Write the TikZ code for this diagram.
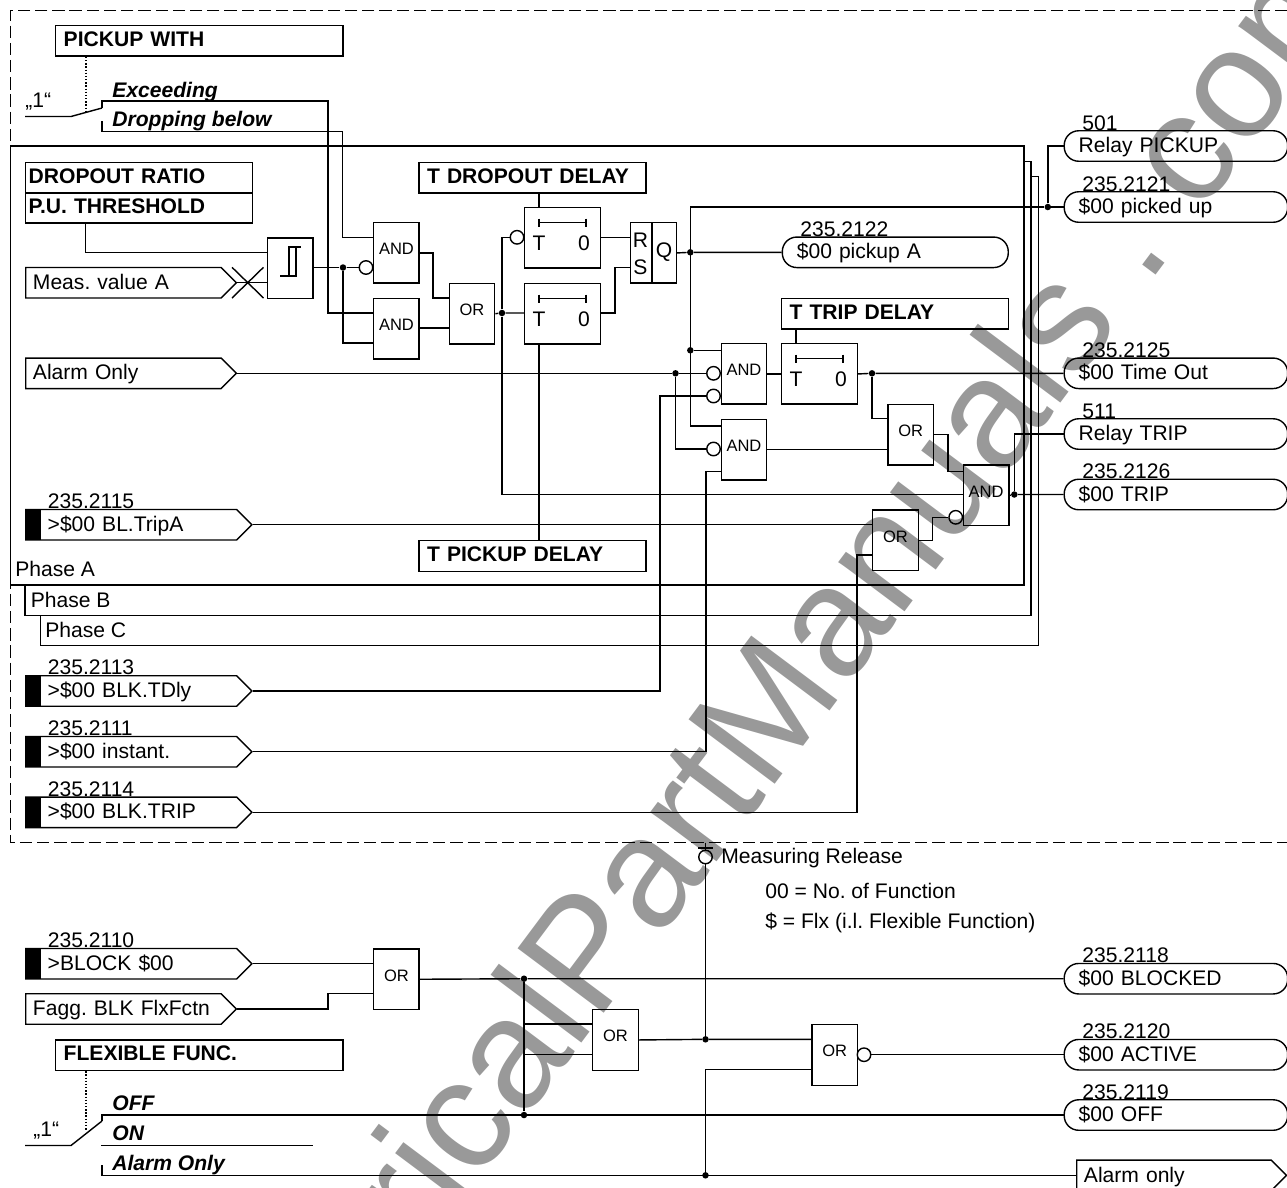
\documentclass[tikz,border=0pt]{standalone}
\usepackage{fontspec}
\setmainfont{Liberation Sans}
\usetikzlibrary{shapes.symbols}
\frenchspacing
\definecolor{wmgray}{HTML}{999999}
\tikzset{
  every node/.style={font=\fontsize{12}{14}\selectfont},
  conn/.style={line width=0.8pt},
  gate/.style={draw,conn,rectangle,anchor=north west,minimum width=0.91cm,minimum height=1.21cm,inner sep=0pt,
    font=\fontsize{9.4}{11}\selectfont,text height=6.7pt,text depth=4.5pt},
  timer/.style={draw,conn,rectangle,anchor=north west,minimum width=1.515cm,minimum height=1.21cm,inner sep=0pt},
  inv/.style={draw,conn,circle,minimum size=0.27cm,inner sep=0pt},
  dot/.style={circle,fill,minimum size=0.13cm,inner sep=0pt},
  txt/.style={anchor=west,inner sep=0pt,text height=8.6pt,text depth=0pt},
  swtxt/.style={txt,font=\fontsize{12}{14}\selectfont\bfseries\itshape},
  numtag/.style={anchor=south west,inner sep=0pt},
  titlebox/.style={draw,conn,rectangle,anchor=north west,minimum height=0.61cm,inner xsep=0.16cm,inner ysep=0pt,
    text width=#1,text height=8.6pt,text depth=2.5pt,font=\fontsize{12}{14}\selectfont\bfseries},
  pill/.style={draw,conn,rectangle,rounded corners=0.29cm,anchor=west,minimum height=0.61cm,inner xsep=0.29cm,inner ysep=0pt,
    text width=#1,text height=8.6pt,text depth=1pt},
  sigin/.style={draw,conn,signal,signal to=east,signal pointer angle=90,anchor=west,minimum height=0.61cm,
    inner xsep=0.145cm,inner ysep=0pt,text width=#1,text height=8.6pt,text depth=1pt},
  sigblk/.style={draw,conn,signal,signal to=east,signal pointer angle=90,anchor=west,minimum height=0.61cm,
    inner xsep=0.44cm,inner ysep=0pt,text width=3.34cm,text height=8.6pt,text depth=1pt},
}
\begin{document}
\begin{tikzpicture}[x=0.02cm,y=-0.02cm]
\path[use as bounding box,clip] (0,0) rectangle (1287,1187);
% watermark
\node[rotate=53.2,anchor=base west,inner sep=0pt,text=wmgray,font=\fontsize{89}{91}\selectfont] (wmark) at (216,1532) {ElectricalPartManuals . com};

% outer frame and phases
\draw[conn,dash pattern=on 7pt off 2.8pt] (1287,10.7) -- (10.5,10.7) -- (10.5,842.7) -- (1287,842.7);
\draw[conn] (10.5,146) rectangle (1023.8,585);
\draw[conn] (25,585) |- (1031,615.7) |- (1023.8,161.7);
\draw[conn] (40.4,615.7) |- (1038.7,645.7) |- (1031,176.7);
\node[txt] (phaseA) at (15,569) {Phase A};
\node[txt] (phaseB) at (30.5,600) {Phase B};
\node[txt] (phaseC) at (45,630) {Phase C};

% settings
\node[titlebox=5.43cm] (pickupWith) at (55,25) {PICKUP WITH};
\node[titlebox=4.42cm,inner xsep=0.06cm] (dropRatio) at (25,161.7) {DROPOUT RATIO};
\node[titlebox=4.42cm,inner xsep=0.06cm] (puThresh) at (25,191.7) {P.U. THRESHOLD};
\node[titlebox=4.22cm] (titleDrop) at (418.4,161.7) {T DROPOUT DELAY};
\node[titlebox=4.22cm] (titlePick) at (418.4,540) {T PICKUP DELAY};
\node[titlebox=4.22cm] (titleTrip) at (781,297.7) {T TRIP DELAY};
\node[titlebox=5.43cm] (flexFunc) at (55,1039.3) {FLEXIBLE FUNC.};

% switches
\node[txt] (oneA) at (25,100) {„1“};
\node[swtxt] (lblExc) at (112,90) {Exceeding};
\node[swtxt] (lblDrop) at (112,118.7) {Dropping below};
\coordinate (lineA) at (25,116.5);
\coordinate (swA) at (71,116.5);
\coordinate (swB) at (102,108);
\coordinate (swC) at (102,121);
\node[txt] (oneB) at (33,1129) {„1“};
\node[swtxt] (lblOff) at (112,1103) {OFF};
\node[swtxt] (lblOn) at (112,1133) {ON};
\node[swtxt] (lblAl) at (112,1163) {Alarm Only};
\coordinate (lineB) at (25,1145.5);
\coordinate (swD) at (71,1145.5);
\coordinate (swE) at (102,1121);
\coordinate (swF) at (102,1165);
\draw[conn,densely dotted] (pickupWith.south -| 86,0) -- (86,111);
\draw[conn,densely dotted] (flexFunc.south -| 86,0) -- (86,1131);
\draw[conn] (lineA) -- (swA) -- (swB);
\draw[conn] (lineB) -- (swD) -- (swE);
\draw[conn] (101,1145.5) -- (313,1145.5);

% inputs
\node[sigin=3.62cm] (measA) at (25,282.7) {Meas. value A};
\node[sigin=3.62cm] (alarmA) at (25,373.3) {Alarm Only};
\node[sigin=3.62cm] (faggIn) at (25,1009) {Fagg. BLK FlxFctn};
\foreach \nm/\y/\num/\tx in {tripBl/524.7/235.2115/>\$00 BL.TripA,blkTDly/691/235.2113/>\$00 BLK.TDly,
    blkInst/751.7/235.2111/>\$00 instant.,blkTrip/812.3/235.2114/>\$00 BLK.TRIP,blockIn/963.7/235.2110/>BLOCK \$00}{
  \node[sigblk] (\nm) at (25,\y) {\tx};
  \fill (\nm.west) ++(0,15.2) rectangle ++(16,-30.4);
  \node[numtag] (\nm Num) at (47.5,\y-15.5) {\num};
}

% gates
\node[gate] (andA) at (373,222) {AND};
\node[gate] (andB) at (373,298) {AND};
\node[gate] (orA) at (448.5,282.7) {OR};
\node[gate] (rs) at (630,222) {};
\node[gate] (andD) at (720.5,343) {AND};
\node[gate] (andE) at (720.5,418.7) {AND};
\node[gate] (orB) at (887.2,403.7) {OR};
\node[gate] (andTrip) at (962.7,464.3) {AND};
\node[gate] (orC) at (872,509.3) {OR};
\node[gate] (orD) at (373,948.3) {OR};
\node[gate] (orE) at (592,1009) {OR};
\node[gate] (orF) at (811.3,1024) {OR};
\node[draw,conn,rectangle,anchor=north west,minimum width=0.91cm,minimum height=1.21cm,inner sep=0pt] (hyst) at (267,237.3) {};
\draw[conn] (280,276) -- (296,276) -- (296,247) (289,276) -- (289,247) -- (301,247);
\draw[conn] (232,267.3) -- (263.5,298) (232,298) -- (263.5,267.3);
\draw[conn] (652,0 |- rs.north) -- (652,0 |- rs.south);
\node[inner sep=0pt] (rsR) at (640.5,240) {R};
\node[inner sep=0pt] (rsS) at (640.5,267) {S};
\node[inner sep=0pt] (rsQ) at (664,252.3) {Q};

% timers
\foreach \tm/\x/\y in {tDrop/524/207,tPick/524/283,tTrip/781/343}{
  \begin{scope}[shift={(\x,\y)}]
    \node[timer] (\tm) at (0,0) {};
    \draw[conn] (15,11.7) -- (15,19.7) (62,11.7) -- (62,19.7) (15,15.7) -- (62,15.7);
    \node[inner sep=0pt] (\tm T) at (15,36) {T};
    \node[inner sep=0pt] (\tm Z) at (60,36) {0};
  \end{scope}
}

% inverters
\node[inv] (nA) at (366,267.5) {};
\node[inv] (nT) at (517,237.3) {};
\node[inv] (nD1) at (713.5,373.3) {};
\node[inv] (nD2) at (713.5,396) {};
\node[inv] (nE) at (713.5,449) {};
\node[inv] (nF) at (955.7,517.3) {};
\node[inv] (nG) at (864,1054.7) {};
\node[inv] (nRel) at (705.5,857) {};

% outputs
\node[pill=3.94cm] (pickA) at (781.6,252.3) {\$00 pickup A};
\node[numtag] (pickANum) at (800,237) {235.2122};
\foreach \nm/\y/\num/\tx in {relPick/146/501/Relay PICKUP,pkdUp/207/235.2121/\$00 picked up,timeOut/373.3/235.2125/\$00 Time Out,
    relTrip/434/511/Relay TRIP,trip/494.5/235.2126/\$00 TRIP,blocked/978.7/235.2118/\$00 BLOCKED,
    active/1054.7/235.2120/\$00 ACTIVE,off/1115/235.2119/\$00 OFF}{
  \node[pill=3.89cm] (\nm) at (1063.5,\y) {\tx};
  \node[numtag] (\nm Num) at (1082,\y-15.3) {\num};
}
\node[sigin=3.6cm] (alarmOut) at (1076,1175.3) {Alarm only};

% junctions
\node[dot] (dHyst) at (343,267.5) {};
\node[dot] (dOr) at (502,313) {};
\node[dot] (dQ) at (690.3,252.3) {};
\node[dot] (dBar) at (690.3,350.3) {};
\node[dot] (dRel) at (1047.8,207) {};
\node[dot] (dAlarm) at (675.5,373.3) {};
\node[dot] (dTrip) at (872,373.3) {};
\node[dot] (dOut) at (1014.3,494.5) {};
\node[dot] (dBlk) at (524,978.7) {};
\node[dot] (dOff) at (524,1115) {};
\node[dot] (dRelease) at (705.5,1039.3) {};
\node[dot] (dAlarmB) at (705.5,1175.3) {};

% pickup logic
\draw[conn] (swB) |- (328,101) |- (andB.west |- 0,313);
\draw[conn] (swC) |- (342.6,131.5) |- (andA.west |- 0,237.5);
\draw[conn] (85.5,0 |- puThresh.south) |- (hyst.west |- 0,252.7);
\draw[conn] (measA.east) -- (hyst.west |- measA.east);
\draw[conn] (hyst.east |- dHyst) -- (dHyst) -- (nA.west);
\draw[conn] (dHyst) |- (andB.west |- 0,343);
\draw[conn] (andA.east) -| (433,298) -- (orA.west |- 0,298);
\draw[conn] (andB.east |- 0,328) -- (orA.west |- 0,328);
\draw[conn] (orA.east) -- (dOr) -- (tPick.west |- dOr);
\draw[conn] (dOr) |- (nT.west);
\draw[conn] (dOr) |- (andTrip.west |- 0,494.5);
\draw[conn] (tDrop.east |- nT) -- (rs.west |- nT);
\draw[conn] (tPick.east |- dOr) -| (615,267.3) -- (rs.west |- 0,267.3);
\draw[conn] (titleDrop.south -| tDropT) -- (tDrop.north -| tDropT);
\draw[conn] (tPick.south -| tPickT) -- (titlePick.north -| tPickT);
\draw[conn] (titleTrip.south -| tTripT) -- (tTrip.north -| tTripT);
\draw[conn] (rs.east) -- (dQ) -- (pickA.west);
\draw[conn] (pkdUp.west) -- (dRel) -- (690.3,207) |- (andE.west |- 0,426);
\draw[conn] (dRel) |- (relPick.west);
\draw[conn] (dBar) -- (andD.west |- dBar);

% trip logic
\draw[conn] (alarmA.east) -- (dAlarm) -- (nD1.west);
\draw[conn] (dAlarm) |- (nE.west);
\draw[conn] (blkTDly.east) -| (660,396) -- (nD2.west);
\draw[conn] (blkInst.east) -| (706,471.7) -- (andE.west |- 0,471.7);
\draw[conn] (andD.east) -- (tTrip.west);
\draw[conn] (tTrip.east) -- (dTrip) -- (timeOut.west);
\draw[conn] (dTrip) |- (orB.west |- 0,418.7);
\draw[conn] (andE.east) -- (orB.west |- andE.east);
\draw[conn] (orB.east) -| (948,471.7) -- (andTrip.west |- 0,471.7);
\draw[conn] (tripBl.east) -- (orC.west |- tripBl.east);
\draw[conn] (blkTrip.east) -| (857,555) -- (orC.west |- 0,555);
\draw[conn] (orC.east) -| (932.3,517.3) -- (nF.west);
\draw[conn] (andTrip.east) -- (dOut) -- (trip.west);
\draw[conn] (dOut) |- (relTrip.west);

% measuring release and function state
\draw[conn] (705.5,842.7) -- (nRel.north);
\draw[conn] (698,848) -- (713,848);
\draw[conn] (nRel.south) -- (dRelease);
\node[txt] (measRel) at (721,856) {Measuring Release};
\node[txt] (noteNo) at (765,891) {00 = No. of Function};
\node[txt] (noteFlx) at (765,921) {\$ = Flx (i.l. Flexible Function)};
\draw[conn] (blockIn.east) -- (orD.west |- blockIn.east);
\draw[conn] (faggIn.east) -| (328,993.7) -- (orD.west |- 0,993.7);
\draw[conn] (orD.east) -- (dBlk) -- (blocked.west);
\draw[conn] (dBlk) -- (dOff);
\draw[conn] (dBlk |- 0,1024) -- (orE.west |- 0,1024);
\draw[conn] (dBlk |- 0,1054.7) -- (orE.west |- 0,1054.7);
\draw[conn] (orE.east) -- (dRelease) -- (orF.west |- dRelease);
\draw[conn] (dAlarmB) |- (orF.west |- 0,1069.3);
\draw[conn] (nG.east) -- (active.west);
\draw[conn] (swE) |- (off.west);
\draw[conn] (swF) |- (alarmOut.west);
\end{tikzpicture}
\end{document}
